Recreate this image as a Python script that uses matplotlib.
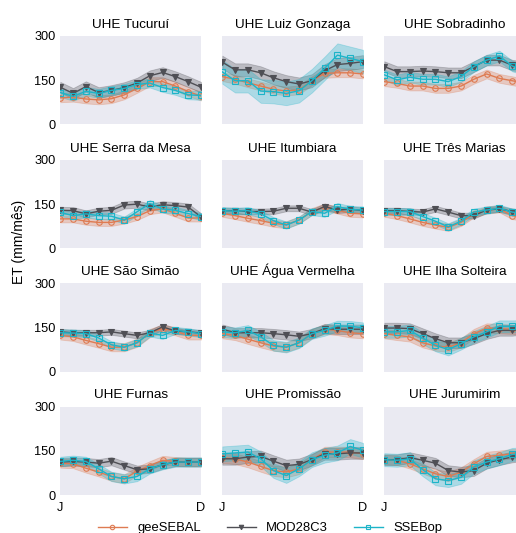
"""Monthly ET (mm/mes) at 12 UHE reservoirs: geeSEBAL vs MOD28C3 vs SSEBop."""
import matplotlib
matplotlib.use("Agg")
import matplotlib.pyplot as plt
import numpy as np

plt.rcParams["font.family"] = ["Liberation Sans", "DejaVu Sans"]

months = ["J", "F", "M", "A", "M", "J", "J", "A", "S", "O", "N", "D"]
plants = [
    "UHE Tucuruí", "UHE Luiz Gonzaga", "UHE Sobradinho",
    "UHE Serra da Mesa", "UHE Itumbiara", "UHE Três Marias",
    "UHE São Simão", "UHE Água Vermelha", "UHE Ilha Solteira",
    "UHE Furnas", "UHE Promissão", "UHE Jurumirim",
]

gee = [
    [90, 92, 86, 83, 87, 100, 122, 145, 145, 130, 111, 96],
    [162, 153, 141, 130, 119, 113, 117, 148, 173, 175, 175, 171],
    [145, 139, 130, 130, 122, 122, 130, 153, 171, 156, 148, 140],
    [100, 100, 92, 88, 88, 96, 108, 128, 134, 119, 103, 103],
    [119, 111, 102, 94, 85, 80, 96, 125, 140, 130, 119, 117],
    [119, 111, 100, 88, 79, 71, 88, 117, 130, 134, 111, 105],
    [123, 118, 106, 95, 83, 83, 98, 131, 146, 137, 123, 123],
    [129, 123, 110, 98, 87, 83, 98, 129, 144, 140, 132, 129],
    [129, 123, 118, 98, 87, 83, 98, 129, 148, 146, 144, 140],
    [108, 106, 91, 78, 63, 55, 81, 100, 118, 114, 112, 112],
    [127, 123, 112, 97, 83, 78, 89, 120, 146, 146, 146, 140],
    [120, 118, 106, 89, 72, 63, 78, 106, 131, 135, 140, 140],
]
mod = [
    [126, 105, 128, 108, 115, 125, 140, 165, 176, 162, 145, 126],
    [211, 185, 185, 175, 158, 145, 137, 148, 182, 203, 207, 213],
    [196, 179, 179, 181, 179, 175, 175, 196, 218, 218, 201, 195],
    [129, 128, 117, 126, 129, 147, 150, 140, 148, 145, 140, 107],
    [128, 128, 125, 125, 126, 136, 136, 123, 142, 130, 133, 128],
    [128, 128, 125, 123, 134, 123, 111, 111, 130, 134, 125, 118],
    [135, 132, 132, 132, 135, 129, 123, 132, 152, 138, 135, 131],
    [144, 132, 132, 132, 129, 125, 120, 129, 146, 144, 144, 144],
    [148, 148, 146, 129, 112, 98, 98, 112, 129, 140, 140, 145],
    [112, 114, 112, 108, 115, 100, 86, 89, 103, 112, 112, 112],
    [123, 123, 129, 131, 115, 100, 104, 120, 140, 140, 143, 143],
    [120, 120, 127, 118, 108, 83, 78, 83, 108, 120, 129, 135],
]
ssebop = [
    [108, 95, 112, 105, 115, 122, 135, 140, 125, 115, 100, 98],
    [178, 148, 148, 113, 111, 105, 114, 148, 190, 235, 224, 213],
    [168, 151, 160, 153, 153, 145, 162, 196, 218, 232, 198, 185],
    [122, 111, 117, 111, 109, 96, 124, 152, 133, 129, 118, 108],
    [128, 126, 128, 117, 94, 79, 96, 125, 119, 142, 132, 130],
    [125, 125, 125, 108, 92, 73, 92, 123, 130, 136, 123, 118],
    [132, 131, 129, 114, 91, 83, 98, 131, 123, 140, 135, 129],
    [135, 132, 140, 118, 89, 83, 98, 129, 140, 155, 154, 149],
    [135, 135, 140, 114, 89, 75, 95, 118, 135, 154, 154, 155],
    [114, 118, 114, 89, 63, 55, 63, 89, 103, 112, 112, 112],
    [140, 143, 146, 123, 83, 66, 89, 120, 135, 143, 165, 152],
    [120, 118, 123, 86, 55, 49, 60, 95, 112, 123, 138, 140],
]
# half-width of the shaded band (std) per panel
gee_sd = [15, 15, 15, 12, 12, 12, 14, 16, 16, 15, 18, 16]
mod_sd = [18, 22, 18, 12, 10, 10, 10, 16, 18, 14, 20, 18]
sse_sd = [15, 40, 18, 12, 12, 12, 12, 18, 20, 16, 25, 22]

series = [
    ("geeSEBAL", gee, gee_sd, "#DE7B52", "o", "none"),
    ("MOD28C3", mod, mod_sd, "#4F4F55", "v", "#4F4F55"),
    ("SSEBop", ssebop, sse_sd, "#1DB4C8", "s", "none"),
]

W, H = 516, 533
fig = plt.figure(figsize=(W / 100, H / 100), dpi=100)

col_left = [60.3, 222.3, 384.3]
row_top = [36, 160, 283.3, 406.7]
ax_w, ax_h = 140.7, 88.3
x = np.arange(12)

for i, name in enumerate(plants):
    r, c = divmod(i, 3)
    ax = fig.add_axes([col_left[c] / W, 1 - (row_top[r] + ax_h) / H, ax_w / W, ax_h / H])
    ax.set_facecolor("#EAEAF2")
    for s in ax.spines.values():
        s.set_visible(False)
    for label, data, sd, color, marker, mfc in series:
        y = np.array(data[i], dtype=float)
        ax.fill_between(x, y - sd[i], y + sd[i], color=color, alpha=0.3, lw=0.6)
        ax.plot(x, y, color=color, lw=1.0, marker=marker, ms=4, mfc=mfc,
                mec=color, mew=0.8, label=label)
    ax.set_xlim(0, 11)
    ax.set_ylim(0, 300)
    ax.set_yticks([0, 150, 300])
    # the right column runs past the canvas edge, so its D label would be cut
    ax.set_xticks([0, 11] if c < 2 else [0])
    ax.tick_params(length=0, labelsize=9.2)
    ax.tick_params(axis="x", pad=5)
    if c == 0:
        ax.set_yticklabels(["0", "150", "300"])
    else:
        ax.set_yticklabels([])
    if r == 3:
        ax.set_xticklabels([months[0], months[-1]] if c < 2 else [months[0]])
    else:
        ax.set_xticklabels([])
    ax.set_title(name, fontsize=9.7, pad=6)

fig.text(19 / W, 1 - 242 / H, "ET (mm/mês)", rotation=90, ha="center", va="center",
         fontsize=10)

handles, labels = ax.get_legend_handles_labels()
fig.legend(handles, labels, loc="center", bbox_to_anchor=(270 / W, 1 - 528 / H), ncol=3,
           frameon=False, fontsize=9.4, handlelength=2.2, handletextpad=0.8,
           columnspacing=2.0, markerscale=0.8)

fig.savefig("out.png", dpi=100)
